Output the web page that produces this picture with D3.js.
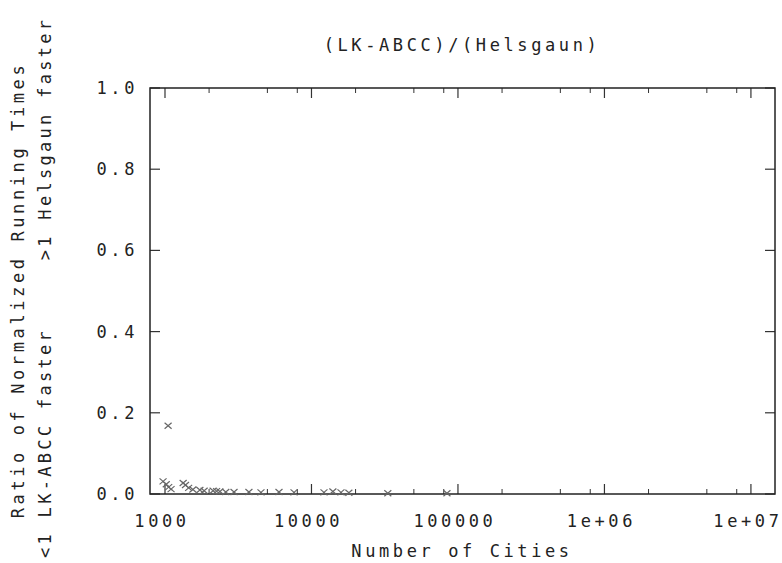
<!DOCTYPE html>
<html>
<head>
<meta charset="utf-8">
<script src="https://cdn.jsdelivr.net/npm/d3@7"></script>
<style>
  body { margin: 0; background: #fff; }
  text { font-family: "DejaVu Sans Mono", monospace; font-size: 17px; fill: #222; letter-spacing: 3.6px; white-space: pre; }
</style>
</head>
<body>
<div id="chart"></div>
<script>
// number of cities and running time ratio
var cities = [1050, 970, 1020, 1060, 1100, 1330, 1380, 1450, 1550, 1730, 1850, 2130, 2250, 2370, 2600,
  2960, 3740, 4520, 6000, 7600, 12170, 14000, 15900, 18000, 33200, 84100];
var ratios = [0.168, 0.031, 0.024, 0.017, 0.012, 0.027, 0.022, 0.015, 0.011, 0.010, 0.008, 0.008, 0.007, 0.006, 0.005,
  0.005, 0.005, 0.004, 0.005, 0.004, 0.004, 0.006, 0.004, 0.003, 0.002, 0.002];
var xTicks = [1000, 10000, 100000, 1000000, 10000000];
var xTickLabels = ["1000", "10000", "100000", "1e+06", "1e+07"];
var yTicks = [0, 0.2, 0.4, 0.6, 0.8, 1.0];

var W = 782, H = 563;
var margin = { top: 88, right: 7, bottom: 69, left: 150 },
  width = W - margin.left - margin.right,
  height = H - margin.top - margin.bottom;

var svg = d3.select("#chart").append("svg")
  .attr("width", W)
  .attr("height", H);

var g = svg.append("g")
  .attr("transform", "translate(" + margin.left + "," + margin.top + ")");

var x = d3.scaleLog().domain([790, 1.46e7]).range([0, width]);
var y = d3.scaleLinear().domain([0, 1]).range([height, 0]);

// minor ticks (only 2, 5, 8 show in the scanned plot)
var minor = [];
[1000, 10000, 100000, 1000000].forEach(function (d) {
  [2, 5, 8].forEach(function (m) { minor.push(d * m); });
});

var tickColor = "#333";

// x ticks, bottom and top, pointing inward
xTicks.forEach(function (t, i) {
  g.append("line").attr("x1", x(t)).attr("x2", x(t)).attr("y1", height).attr("y2", height - 10)
    .attr("stroke", tickColor).attr("stroke-width", 1.2);
  g.append("line").attr("x1", x(t)).attr("x2", x(t)).attr("y1", 0).attr("y2", 10)
    .attr("stroke", tickColor).attr("stroke-width", 1.2);
  g.append("text").attr("x", x(t) - 3).attr("y", height + 33)
    .attr("text-anchor", "middle").text(xTickLabels[i]);
});
minor.forEach(function (t) {
  g.append("line").attr("x1", x(t)).attr("x2", x(t)).attr("y1", height).attr("y2", height - 5)
    .attr("stroke", tickColor).attr("stroke-width", 1);
  g.append("line").attr("x1", x(t)).attr("x2", x(t)).attr("y1", 0).attr("y2", 5)
    .attr("stroke", tickColor).attr("stroke-width", 1);
});

// y ticks, left and right
yTicks.forEach(function (t) {
  g.append("line").attr("x1", 0).attr("x2", 10).attr("y1", y(t)).attr("y2", y(t))
    .attr("stroke", tickColor).attr("stroke-width", 1.2);
  g.append("line").attr("x1", width).attr("x2", width - 10).attr("y1", y(t)).attr("y2", y(t))
    .attr("stroke", tickColor).attr("stroke-width", 1.2);
  g.append("text").attr("x", -12).attr("y", y(t) + 6)
    .attr("text-anchor", "end").text(d3.format(".1f")(t));
});

// frame
g.append("rect").attr("width", width).attr("height", height)
  .attr("fill", "none").attr("stroke", "#222").attr("stroke-width", 1.5);

// points as x marks
var pts = g.selectAll(".pt").data(cities.map(function (c, i) { return { n: c, r: ratios[i] }; }))
  .enter().append("g").attr("class", "pt")
  .attr("transform", function (d) { return "translate(" + x(d.n) + "," + y(d.r) + ")"; });
pts.append("path").attr("d", "M-3.5,-3L3.5,3M-3.5,3L3.5,-3")
  .attr("stroke", "#666").attr("stroke-width", 1.2).attr("fill", "none");

// title and axis labels
svg.append("text").attr("x", 462).attr("y", 51).attr("text-anchor", "middle").text("(LK-ABCC)/(Helsgaun)");
svg.append("text").attr("x", 462).attr("y", 557).attr("text-anchor", "middle").text("Number of Cities");
svg.append("text").attr("transform", "translate(24,290) rotate(-90)")
  .attr("text-anchor", "middle").text("Ratio of Normalized Running Times");
svg.append("text").attr("transform", "translate(51,558) rotate(-90)")
  .attr("text-anchor", "start").style("letter-spacing", "3.3px")
  .text("<1 LK-ABCC faster     >1 Helsgaun faster");
</script>
</body>
</html>
